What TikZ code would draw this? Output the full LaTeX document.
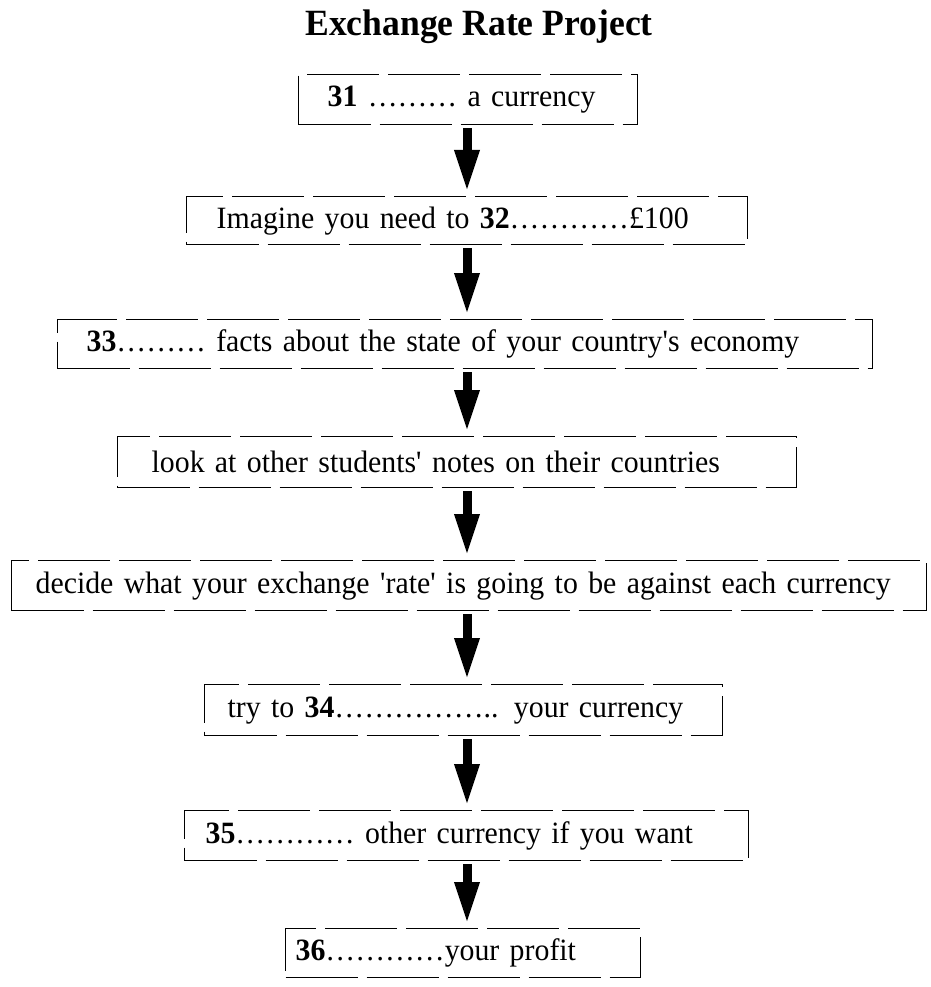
\documentclass[tikz,border=0pt]{standalone}
\usepackage{fontspec}
\setmainfont{Liberation Serif}[FakeStretch=0.962]
\usetikzlibrary{arrows.meta}
\begin{document}
\begin{tikzpicture}[x=1pt,y=-1pt,
  stepbox/.style={draw, line width=1.3pt, dash pattern=on 72pt off 9pt,
    anchor=north west, align=left, inner ysep=0pt,
    font=\fontsize{31}{36}\selectfont},
  bigarrow/.style={line width=9pt, -{Triangle[length=42pt,width=23pt]},
    shorten <=3pt, shorten >=4pt},
  titletext/.style={font=\fontsize{37}{40}\selectfont\bfseries}
]
\useasboundingbox (0,0) rectangle (930,987);

\node[titletext] (title) at (479,27) {Exchange Rate Project};

\node[stepbox, inner xsep=29pt, text width=281pt, minimum height=50pt] (b1) at (298,74)
  {\mbox{\textbf{31} ……… a currency}};
\node[stepbox, inner xsep=30pt, text width=501pt, minimum height=48pt] (b2) at (186,196)
  {\mbox{Imagine you need to \textbf{32}…………£100}};
\node[stepbox, inner xsep=29pt, text width=757pt, minimum height=49pt] (b3) at (57,319)
  {\mbox{\textbf{33}……… facts about the state of your country\textquotesingle s economy}};
\node[stepbox, inner xsep=34pt, text width=611pt, minimum height=51pt] (b4) at (117,436)
  {\mbox{look at other students\textquotesingle{} notes on their countries}};
\node[stepbox, inner xsep=24pt, text width=867pt, minimum height=50pt] (b5) at (11,560)
  {\mbox{decide what your exchange \textquotesingle rate\textquotesingle{} is going to be against each currency}};
\node[stepbox, inner xsep=23pt, text width=472pt, minimum height=51pt] (b6) at (204,684)
  {\mbox{try to \textbf{34}…………….. your currency}};
\node[stepbox, inner xsep=21pt, text width=522pt, minimum height=50pt] (b7) at (184,810)
  {\mbox{\textbf{35}………… other currency if you want}};
\node[stepbox, inner xsep=10pt, text width=335pt, minimum height=49pt] (b8) at (285,928)
  {\mbox{\textbf{36}…………your profit}};

\coordinate (ax) at (467,0);
\draw[bigarrow] (b1.south -| ax) -- (b2.north -| ax);
\draw[bigarrow] (b2.south -| ax) -- (b3.north -| ax);
\draw[bigarrow] (b3.south -| ax) -- (b4.north -| ax);
\draw[bigarrow] (b4.south -| ax) -- (b5.north -| ax);
\draw[bigarrow] (b5.south -| ax) -- (b6.north -| ax);
\draw[bigarrow] (b6.south -| ax) -- (b7.north -| ax);
\draw[bigarrow] (b7.south -| ax) -- (b8.north -| ax);
\end{tikzpicture}
\end{document}
